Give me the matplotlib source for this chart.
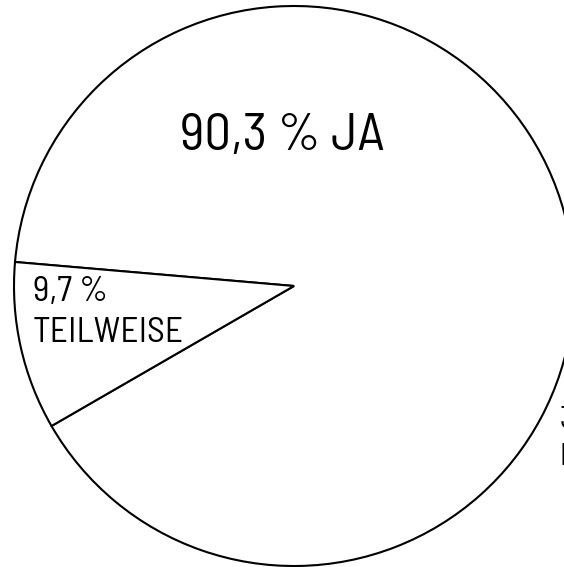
import matplotlib
matplotlib.use("Agg")
import matplotlib.pyplot as plt

# answers (share in percent)
labels = ["JA", "TEILWEISE"]
shares = [90.3, 9.7]
label_texts = ["90,3 % JA", "9,7 %\nTEILWEISE"]
cut_text = "3,0 %\nNEIN"  # label of a neighbouring chart, mostly cut off

plt.rcParams['font.family'] = ['Barlow Semi Condensed', 'DejaVu Sans']

fig = plt.figure(figsize=(5.64, 5.67), dpi=100)
ax = fig.add_axes([0, 0, 1, 1])

# pixel-like data coords, y upwards
cx, cy, r = 294, 567 - 286, 280
ax.pie(shares, startangle=210, counterclock=True, radius=r, center=(cx, cy),
       colors=["white", "white"],
       wedgeprops=dict(edgecolor="black", linewidth=1.5))
ax.set_xlim(0, 564)
ax.set_ylim(0, 567)
ax.set_aspect("auto")
ax.axis("off")

ax.text(cx - 12, 567 - 137, label_texts[0], ha="center", va="center",
        fontsize=38)
ax.text(33, 567 - 276, label_texts[1], ha="left", va="top", fontsize=25.5,
        linespacing=1.35)
ax.text(559.5, 567 - 406, cut_text, ha="left", va="top", fontsize=22,
        linespacing=1.4)

fig.savefig("out.png", dpi=100)
